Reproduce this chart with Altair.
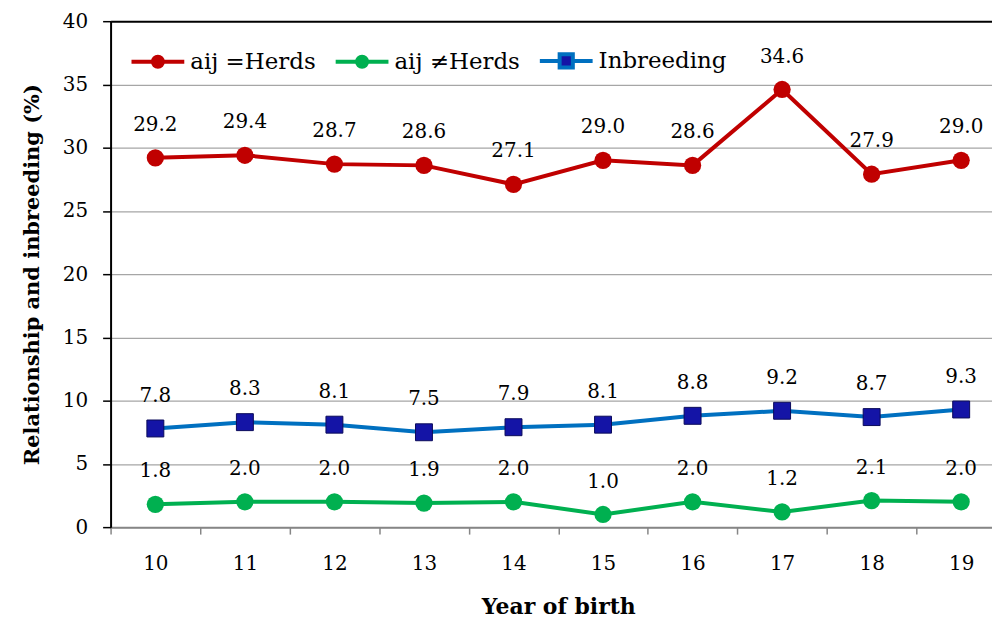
import altair as alt
import pandas as pd

years = ["10", "11", "12", "13", "14", "15", "16", "17", "18", "19"]
same_herd = [29.2, 29.4, 28.7, 28.6, 27.1, 29.0, 28.6, 34.6, 27.9, 29.0]
diff_herd = [1.8, 2.0, 2.0, 1.9, 2.0, 1.0, 2.0, 1.2, 2.1, 2.0]
inbreeding = [7.8, 8.3, 8.1, 7.5, 7.9, 8.1, 8.8, 9.2, 8.7, 9.3]
series_names = ["aij =Herds", "aij \u2260Herds", "Inbreeding"]
line_colors = ["#C00000", "#00B050", "#0070C0"]
marker_colors = ["#C00000", "#00B050", "#1414A6"]
y_ticks = [0, 5, 10, 15, 20, 25, 30, 35, 40]

rows = []
for name, vals in zip(series_names, [same_herd, diff_herd, inbreeding]):
    for yr, v in zip(years, vals):
        rows.append({"year": yr, "series": name, "value": v})
df = pd.DataFrame(rows)

FONT = "DejaVu Serif"

circle_sym = ("M-1,0H-0.19M0.19,0H1"
              "M0.19,0A0.19,0.19 0 1 1 -0.19,0A0.19,0.19 0 1 1 0.19,0Z")
square_sym = "M-1,0H-0.25M0.25,0H1M-0.25,-0.25H0.25V0.25H-0.25Z"
legend_shapes = [circle_sym, circle_sym, square_sym]

x_enc = alt.X(
    "year:N", sort=years, title="Year of birth",
    scale=alt.Scale(type="band", paddingInner=0, paddingOuter=0, range=[0, 899]),
    axis=alt.Axis(
        tickBand="extent", labelAngle=0, grid=False,
        domainColor="#868686", domainWidth=2,
        tickColor="#868686", tickWidth=1.5, tickSize=7,
        labelPadding=20, labelFont=FONT, labelFontSize=20, labelColor="black",
        titleFont=FONT, titleFontSize=22, titleFontWeight="bold",
        titleColor="black", titlePadding=23,
    ),
)
y_enc = alt.Y(
    "value:Q", title="Relationship and inbreeding (%)",
    scale=alt.Scale(domain=[0, 40], nice=False),
    axis=alt.Axis(
        values=y_ticks, grid=True,
        gridColor={"condition": {"test": "datum.value == 40", "value": "black"},
                   "value": "#A6A6A6"},
        gridWidth={"condition": {"test": "datum.value == 40", "value": 2},
                   "value": 1.3},
        domainColor="black", domainWidth=2,
        tickColor="black", tickWidth=1.5, tickSize=8,
        labelPadding=15, labelFont=FONT, labelFontSize=20, labelColor="black",
        titleFont=FONT, titleFontSize=21, titleFontWeight="bold",
        titleColor="black", titlePadding=20,
    ),
)

base = alt.Chart(df)

layers = []
for name, lc, mc in zip(series_names, line_colors, marker_colors):
    sub = base.transform_filter(alt.datum.series == name)
    layers.append(sub.mark_line(strokeWidth=4, color=lc).encode(x=x_enc, y=y_enc))
for name, lc, mc in zip(series_names, line_colors, marker_colors):
    sub = base.transform_filter(alt.datum.series == name)
    if name == "Inbreeding":
        layers.append(sub.mark_square(size=289, opacity=1, fill=mc,
                                      stroke="#0A0A5A", strokeWidth=1)
                      .encode(x=x_enc, y=y_enc))
    else:
        layers.append(sub.mark_circle(size=300, opacity=1, color=mc)
                      .encode(x=x_enc, y=y_enc))

labels = base.mark_text(
    font=FONT, fontSize=20, color="black", baseline="alphabetic", dy=-27
).encode(x=x_enc, y=y_enc, text=alt.Text("value:Q", format=".1f"))
layers.append(labels)

leg = alt.Legend(
    title=None, orient="none", direction="horizontal",
    legendX=19, legendY=11, padding=0,
    symbolSize=2809, symbolStrokeWidth=4, symbolOpacity=1,
    labelFont=FONT, labelFontSize=23, labelColor="black",
    labelOffset=4, columnPadding=12, labelLimit=400,
)

legend_layer = base.mark_point(size=0, strokeWidth=4, opacity=1).encode(
    x=x_enc, y=y_enc,
    fill=alt.Fill("series:N", scale=alt.Scale(domain=series_names, range=marker_colors), legend=leg),
    stroke=alt.Stroke("series:N", scale=alt.Scale(domain=series_names, range=line_colors), legend=leg),
    shape=alt.Shape("series:N",
                    scale=alt.Scale(domain=series_names, range=legend_shapes),
                    legend=leg),
)
layers.append(legend_layer)

chart = alt.layer(*layers).properties(
    width=885, height=508,
    autosize=alt.AutoSizeParams(type="none"),
    padding={"left": 103, "top": 12, "right": 0, "bottom": 91},
    background="white",
).configure_view(stroke=None)

chart.save("out.html", embed_options={"renderer": "svg", "actions": False})
